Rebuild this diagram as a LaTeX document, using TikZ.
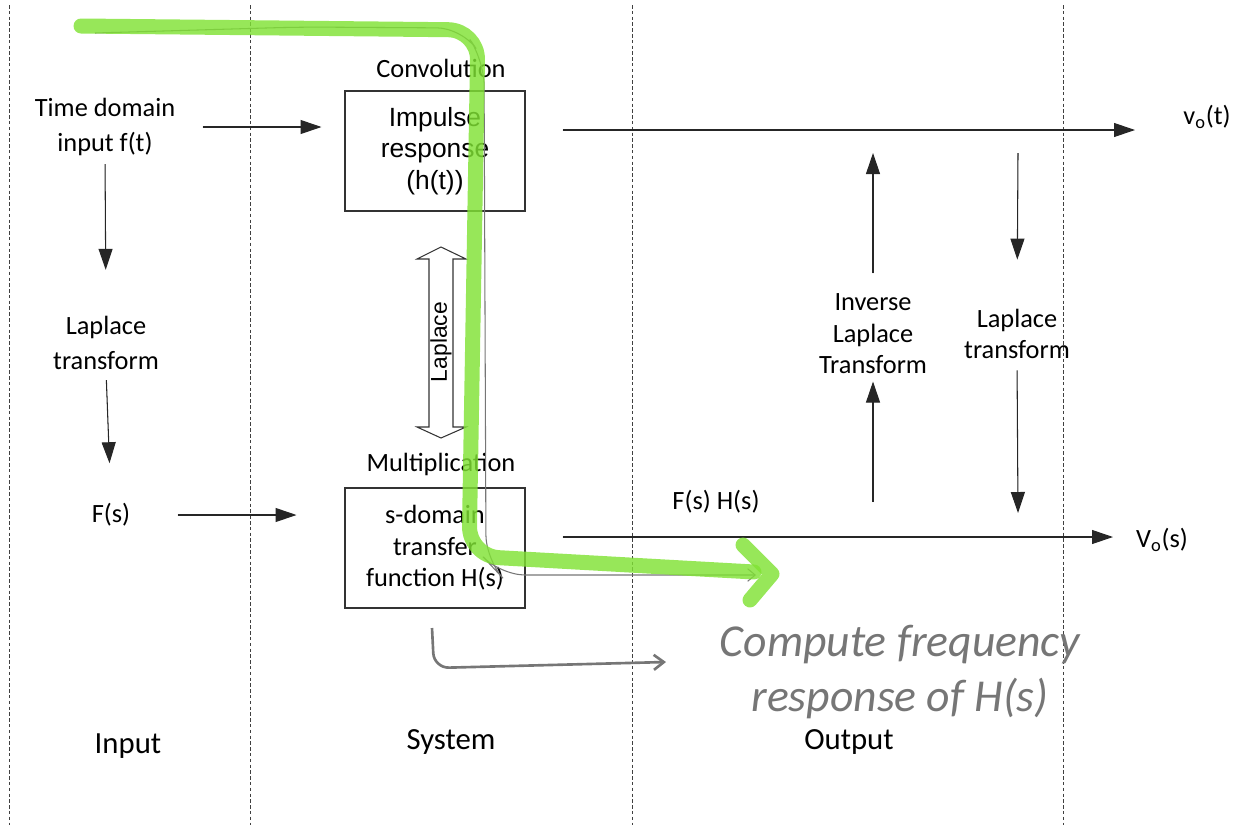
\documentclass[tikz,border=0pt]{standalone}
\usepackage{fontspec}
\setmainfont{Carlito}
\newfontfamily\arialfont{Liberation Sans}
\usetikzlibrary{arrows.meta,positioning}

\definecolor{hilite}{RGB}{128,226,52}
\definecolor{pencil}{RGB}{118,118,118}

\begin{document}
\begin{tikzpicture}[x=0.02cm, y=-0.02cm,
    txt/.style={align=center, inner sep=0pt, font=\fontsize{15}{20}\selectfont},
    block/.style={rectangle, draw=black!80, line width=0.6pt, minimum width=3.6cm, minimum height=2.4cm, align=center, font=\fontsize{15}{18}\selectfont},
    heading/.style={inner sep=0pt, font=\fontsize{17.5}{21}\selectfont},
    arrow/.style={-{Triangle[length=0.42cm,width=0.28cm]}, draw=black!85, fill=black, line width=0.6pt},
    lane/.style={dash pattern=on 2pt off 1.3pt, line width=0.5pt, draw=black!75},
    marker/.style={hilite, opacity=0.82, line width=0.3cm, line cap=round, line join=round}]

    \useasboundingbox (0,0) rectangle (1236,825);

    % lanes
    \foreach \x in {9,250,632,1063}
        \draw[lane] (\x,5) -- (\x,825);

    % input column
    \node[txt] (ft) at (105,127) {Time domain\\input f(t)};
    \node[txt] (lt1) at (106,343) {Laplace\\transform};
    \node[txt] (Fs) at (111,515) {F(s)};

    % system column
    \node[txt] (conv) at (441,68) {Convolution};
    \node[block, font=\arialfont\fontsize{15}{18}\selectfont] (imp) at (435,151) {Impulse\\response\\(h(t))};
    \node[txt] (mult) at (441,464) {Multiplication};
    \node[block] (sdom) at (435,548) {s-domain\\transfer\\function H(s)};
    \draw[black!80, line width=0.6pt] (441,247) -- (466,259) -- (453,259) -- (453,427) -- (466,427)
        -- (441,438) -- (417,427) -- (429,427) -- (429,259) -- (417,259) -- cycle;
    \node[rotate=90, inner sep=0pt, font=\arialfont\fontsize{13}{15}\selectfont] (lap) at (441,342) {Laplace};

    % output column
    \node[txt] (vot) at (1207,117) {v\textsubscript{o}(t)};
    \node[txt] (FH) at (716,502) {F(s) H(s)};
    \node[txt] (Vos) at (1162,540) {V\textsubscript{o}(s)};
    \node[txt, font=\fontsize{15}{18}\selectfont] (inv) at (873,334) {Inverse\\Laplace\\Transform};
    \node[txt, font=\fontsize{15}{18}\selectfont] (lt2) at (1017,334) {Laplace\\transform};

    \coordinate (vt) at (1135,130);
    \coordinate (vs) at (1113,537);
    \coordinate (invtop) at (873,153);
    \coordinate (invbot) at (873,502);
    \coordinate (lttop) at (1018,153);
    \coordinate (ltbot) at (1018,513);

    % headings
    \node[heading] (in) at (128,746) {Input};
    \node[heading] (sys) at (451,742) {System};
    \node[heading] (out) at (849,742) {Output};

    % arrows
    \draw[arrow, shorten <=0.54cm, shorten >=0.46cm] (ft.east) -- (ft.east -| imp.west);
    \draw[arrow, shorten <=0.16cm, shorten >=0.92cm] (ft.south) -- (lt1.north);
    \draw[arrow, shorten <=0.2cm, shorten >=0.8cm] (lt1.south) -- (Fs.north);
    \draw[arrow, shorten <=0.94cm, shorten >=0.96cm] (Fs.east) -- (Fs.east -| sdom.west);
    \draw[arrow, shorten <=0.74cm] (imp.east |- vt) -- (vt);
    \draw[arrow, shorten <=0.74cm] (sdom.east |- vs) -- (vs);
    \draw[arrow, shorten <=0.4cm] (inv.north) -- (invtop);
    \draw[arrow, shorten >=0.14cm] (invbot) -- (inv.south);
    \draw[arrow, shorten >=0.98cm] (lttop) -- (lt2.north);
    \draw[arrow, shorten <=0.22cm] (lt2.south) -- (ltbot);

    % handwritten notes
    \node[align=center, text=pencil, font=\itshape\fontsize{26}{31}\selectfont] (note) at (900,672) {Compute frequency\\response of H(s)};
    \coordinate (hs) at (432,628);
    \coordinate (he) at (666,662);
    \draw[pencil, line width=1.5pt, rounded corners=0.3cm, -{Straight Barb[length=0.2cm,width=0.3cm]}]
        (hs) -- (434,668) -- (he);
    \draw[pencil, line width=0.6pt, rounded corners=0.5cm, -{Straight Barb[length=0.15cm,width=0.25cm]}]
        (95,33) -- (300,27) -- (462,28) -- (484,60) -- (486,560) -- (500,575) -- (756,575);
    \draw[marker, rounded corners=0.6cm] (81,26) -- (478,30) -- (469,556) -- (754,572);
    \draw[marker] (743,545) -- (772,574) -- (750,600);
\end{tikzpicture}
\end{document}
